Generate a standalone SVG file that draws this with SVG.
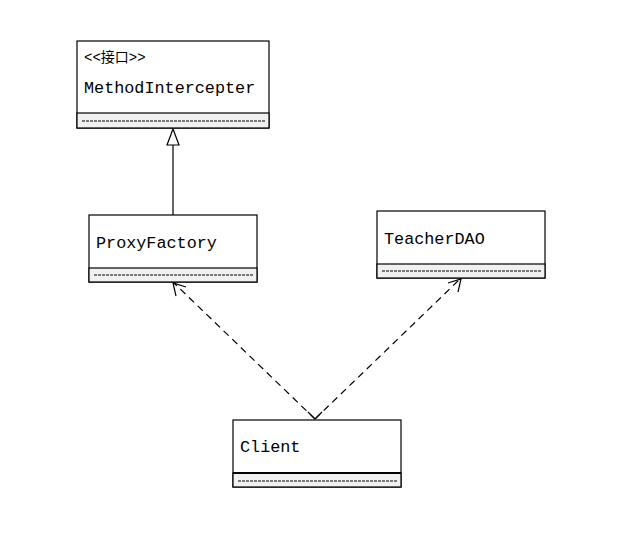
<svg xmlns="http://www.w3.org/2000/svg" width="643" height="536" viewBox="0 0 643 536">
<style>
.box{fill:#fff;stroke:#000;stroke-width:1.2}
.comp{fill:#f0f0f0;stroke:#000;stroke-width:1.2}
.dash{stroke:#000;stroke-width:1;stroke-dasharray:3 1}
.t{font-family:"Liberation Mono","Noto Sans CJK SC",monospace;font-size:16.8px;fill:#000}
.st{font-family:"Liberation Mono","Noto Sans CJK SC",monospace;font-size:14px;fill:#000}
.edge{fill:none;stroke:#000;stroke-width:1.2}
.dep{fill:none;stroke:#000;stroke-width:1.2;stroke-dasharray:7 5}
</style>
<rect width="643" height="536" fill="#fff"/>
<g id="connectors">
<line class="edge" x1="173" y1="215" x2="173" y2="145"/>
<polygon points="173,129 167,145 179,145" fill="#fff" stroke="#000" stroke-width="1.2"/>
<line class="dep" x1="315" y1="419" x2="174" y2="283"/>
<polyline class="edge" points="176,296 173,283 186,287"/>
<line class="dep" x1="315" y1="419" x2="460" y2="279"/>
<polyline class="edge" points="448,283 461,279 458,292"/>
<polyline class="edge" points="308,412 315,419 322,412"/>
</g>
<g id="MethodIntercepter">
<rect class="box" x="77" y="41" width="192" height="87"/>
<rect class="comp" x="77" y="113" width="192" height="15"/>
<line class="dash" x1="82" y1="121" x2="265" y2="121"/>
<text class="st" x="84" y="62">&lt;&lt;接口&gt;&gt;</text>
<text class="t" x="84" y="93">MethodIntercepter</text>
</g>
<g id="ProxyFactory">
<rect class="box" x="89" y="215" width="168" height="67"/>
<rect class="comp" x="89" y="268" width="168" height="14"/>
<line class="dash" x1="94" y1="275" x2="253" y2="275"/>
<text class="t" x="96" y="248">ProxyFactory</text>
</g>
<g id="TeacherDAO">
<rect class="box" x="377" y="211" width="168" height="67"/>
<rect class="comp" x="377" y="264" width="168" height="14"/>
<line class="dash" x1="382" y1="271" x2="541" y2="271"/>
<text class="t" x="384" y="244">TeacherDAO</text>
</g>
<g id="Client">
<rect class="box" x="233" y="420" width="168" height="67"/>
<rect class="comp" x="233" y="473" width="168" height="14"/>
<line x1="233" y1="473" x2="401" y2="473" stroke="#000" stroke-width="2"/>
<line class="dash" x1="238" y1="481" x2="397" y2="481"/>
<text class="t" x="240" y="452">Client</text>
</g>
</svg>
